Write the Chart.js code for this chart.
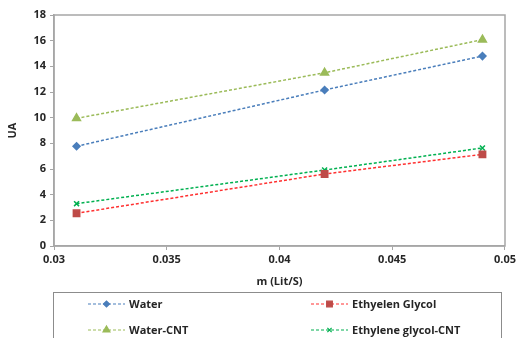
<!DOCTYPE html>
<html><head><meta charset="utf-8">
<script src="https://cdn.jsdelivr.net/npm/chart.js@4"></script>
<style>html,body{margin:0;padding:0;background:#fff;}#wrap{width:519px;height:338px;}</style>
</head><body><div id="wrap"><canvas id="c" width="519" height="338"></canvas></div>
<script>
const flowRates = [0.031, 0.042, 0.049];
const water = [7.77, 12.16, 14.8];
const ethyleneGlycol = [2.55, 5.61, 7.14];
const waterCNT = [9.95, 13.5, 16.08];
const ethyleneGlycolCNT = [3.3, 5.92, 7.64];
const xTicks = [0.03, 0.035, 0.04, 0.045, 0.05];
const yTicks = [0, 2, 4, 6, 8, 10, 12, 14, 16, 18];
const seriesNames = ['Water', 'Ethyelen Glycol', 'Water-CNT', 'Ethylene glycol-CNT'];

const FONT = '"Open Sans", "Liberation Sans", sans-serif';
const TXT = '#262626';

function pts(vals){ return flowRates.map((x,i)=>({x:x,y:vals[i]})); }

const datasets = [
  {label:seriesNames[0], data:pts(water), borderColor:'#4a7ebb', backgroundColor:'#4a7ebb', pointStyle:'rectRot', pointRadius:3.5},
  {label:seriesNames[1], data:pts(ethyleneGlycol), borderColor:'#ff3030', backgroundColor:'#be4b48', pointStyle:'rect', pointRadius:4.5},
  {label:seriesNames[2], data:pts(waterCNT), borderColor:'#9bbb59', backgroundColor:'#9bbb59', pointStyle:'triangle', pointRadius:4.5},
  {label:seriesNames[3], data:pts(ethyleneGlycolCNT), borderColor:'#00b050', backgroundColor:'#00b050', pointStyle:'crossRot', pointRadius:3.5, pointBorderWidth:1.5}
].map(d=>Object.assign({borderWidth:1.5, borderDash:[3,2], showLine:true, fill:false, tension:0, pointBorderColor:d.backgroundColor}, d));

const framePlugin = {
  id:'frame',
  afterDraw(chart){
    const ctx = chart.ctx, a = chart.chartArea;
    ctx.save();
    ctx.strokeStyle = '#a6a6a6'; ctx.lineWidth = 1.5;
    ctx.strokeRect(a.left, a.top, a.right-a.left, a.bottom-a.top);
    // legend box
    ctx.strokeStyle = '#8c8c8c'; ctx.lineWidth = 1;
    ctx.strokeRect(53.5, 292.5, 448, 60);
    const pos = [[88,304],[311,304],[88,330],[311,330]];
    ctx.font = 'bold 11px ' + FONT;
    ctx.textBaseline = 'middle';
    chart.data.datasets.forEach((d,i)=>{
      const [x,y] = pos[i];
      ctx.strokeStyle = d.borderColor; ctx.lineWidth = 1.2; ctx.setLineDash([3,2]);
      ctx.beginPath(); ctx.moveTo(x,y); ctx.lineTo(x+37,y); ctx.stroke();
      ctx.setLineDash([]);
      ctx.fillStyle = d.backgroundColor; ctx.strokeStyle = d.pointBorderColor;
      Chart.helpers.drawPoint(ctx, {pointStyle:d.pointStyle, radius:d.pointRadius-0.5, borderWidth:d.pointBorderWidth||1, rotation:0}, x+18.5, y);
      ctx.fillStyle = TXT;
      ctx.fillText(d.label, x+41, y+0.5);
    });
    ctx.restore();
  }
};

new Chart(document.getElementById('c'), {
  type:'scatter',
  data:{datasets:datasets},
  options:{
    responsive:false, animation:false, devicePixelRatio:1,
    layout:{padding:{left:6, right:10, top:15, bottom:50}},
    plugins:{legend:{display:false}, tooltip:{enabled:false}},
    scales:{
      x:{type:'linear', min:0.03, max:0.05,
        afterBuildTicks(s){ s.ticks = xTicks.map(v=>({value:v})); },
        afterFit(s){ s.height = 42; },
        ticks:{font:{family:FONT, size:11, weight:'bold'}, color:TXT, padding:3, callback:v=>String(+v.toFixed(3))},
        grid:{drawOnChartArea:false, drawTicks:true, tickLength:4, color:'#a6a6a6'},
        border:{color:'#a6a6a6', width:1.5},
        title:{display:true, text:'m (Lit/S)', font:{family:FONT, size:11, weight:'bold'}, color:TXT, padding:{top:4,bottom:0}}
      },
      y:{min:0, max:18,
        afterBuildTicks(s){ s.ticks = yTicks.map(v=>({value:v})); },
        afterFit(s){ s.width = 48; },
        ticks:{font:{family:FONT, size:11, weight:'bold'}, color:TXT, padding:4},
        grid:{drawOnChartArea:false, drawTicks:true, tickLength:4, color:'#a6a6a6'},
        border:{color:'#a6a6a6', width:1.5},
        title:{display:true, text:'UA', font:{family:FONT, size:11, weight:'bold'}, color:TXT, padding:{top:0,bottom:4}}
      }
    }
  },
  plugins:[framePlugin]
});
</script></body></html>
